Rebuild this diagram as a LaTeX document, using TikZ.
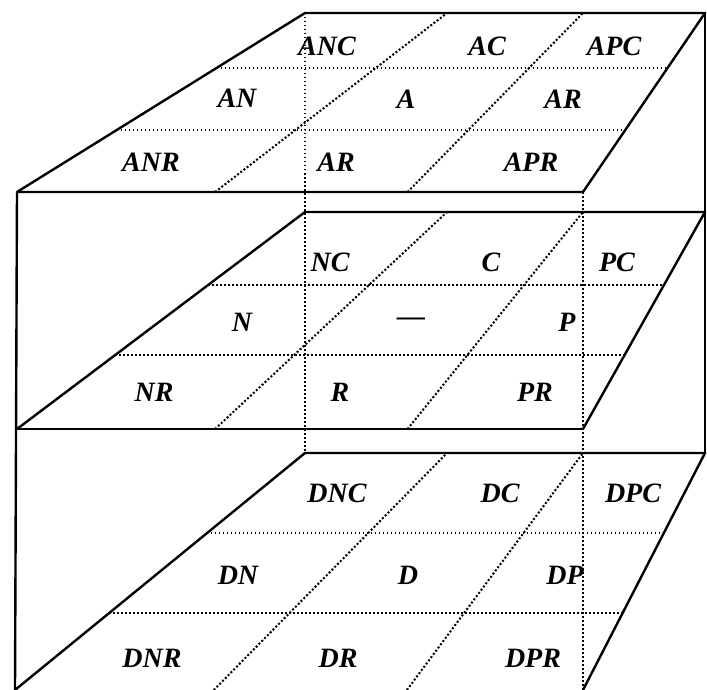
\documentclass[tikz,border=0pt]{standalone}
\usepackage{fontspec}
\setmainfont{Liberation Serif}
\usetikzlibrary{calc}

\begin{document}
\begin{tikzpicture}[x=1pt,y=-1pt,
    edge/.style={line width=2.4pt,line join=round},
    gridline/.style={line width=1.5pt,dash pattern=on 1.5pt off 2.5pt},
    slantline/.style={line width=2pt,dash pattern=on 2pt off 2pt},
    lab/.style={font=\fontsize{28}{30}\selectfont\bfseries\itshape,inner sep=0pt}]
  \useasboundingbox (0,0) rectangle (707,690);
  \foreach \p/\yb/\yf/\xf in {T/13/192/17,M/212/429/17,B/453/690/15}{
    \coordinate (\p bl) at (305,\yb);
    \coordinate (\p br) at (705,\yb);
    \coordinate (\p fr) at (583,\yf);
    \coordinate (\p fl) at (\xf,\yf);
  }
  % hidden edges of the box
  \draw[gridline] (Tbl) -- (Bbl);
  \draw[gridline] (Tfr) -- (Bfr);
  \foreach \p/\fa/\fb in {T/0.346/0.693,M/0.341/0.664,B/0.325/0.662}{
    \draw[gridline] ($(\p fl)!\fa!(\p bl)$) -- ($(\p fr)!\fa!(\p br)$);
    \draw[gridline] ($(\p fl)!\fb!(\p bl)$) -- ($(\p fr)!\fb!(\p br)$);
    \draw[slantline] ($(\p fl)!0.35!(\p fr)$) -- ($(\p bl)!0.355!(\p br)$);
    \draw[slantline] ($(\p fl)!0.69!(\p fr)$) -- ($(\p bl)!0.695!(\p br)$);
    \draw[edge] (\p fl) -- (\p bl) -- (\p br) -- (\p fr);
  }
  \draw[edge] (Tfr) -- (Tfl) -- (Bfl);
  \draw[edge] (Mfr) -- (Mfl);
  \draw[edge] (Tbr) -- (Bbr);
  \foreach \x/\y/\t [count=\i] in {327/46/ANC,487/46/AC,614/46/APC,237/98/AN,406/99/A,563/99/AR,151/162/ANR,336/162/AR,531/162/APR,
      330/262/NC,491/262/C,617/262/PC,242/322/N,411/322/—,567/322/P,154/392/NR,340/392/R,535/392/PR,
      337/493/DNC,500/493/DC,633/493/DPC,238/575/DN,408/575/D,565/575/DP,152/658/DNR,338/658/DR,533/658/DPR}
    \node[lab] (lab\i) at (\x,\y) {\t};
\end{tikzpicture}
\end{document}
